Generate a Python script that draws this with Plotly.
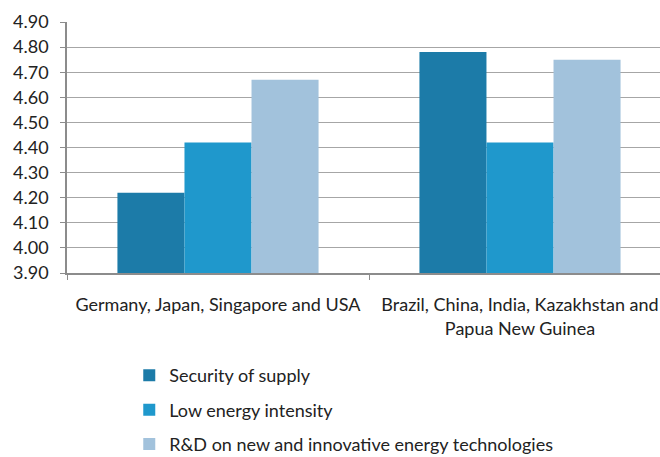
import plotly.graph_objects as go

# Country groups shown on the x axis
categories = [
    "Germany, Japan, Singapore and USA",
    "Brazil, China, India, Kazakhstan and<br>Papua New Guinea",
]

# Mean importance score of each energy-policy priority
security_of_supply = [4.22, 4.78]
low_energy_intensity = [4.42, 4.42]
rnd_new_technologies = [4.67, 4.75]

series_names = [
    "Security of supply",
    "Low energy intensity",
    "R&D on new and innovative energy technologies",
]
series_values = [security_of_supply, low_energy_intensity, rnd_new_technologies]
series_colors = ["#1C7BA8", "#1F98CC", "#A2C2DC"]

y_ticks = [3.9 + 0.1 * i for i in range(11)]

FONT = "Lato"
TEXT = "#222222"
SIZE = 18

fig = go.Figure()
for i, (name, vals, color) in enumerate(zip(series_names, series_values, series_colors)):
    fig.add_trace(go.Bar(
        x=categories,
        y=vals,
        name=name,
        legendgroup=f"g{i}",
        marker=dict(color=color, line=dict(width=0)),
    ))

fig.update_layout(
    width=660,
    height=457,
    margin=dict(l=67, r=0, t=22, b=184, autoexpand=False),
    paper_bgcolor="white",
    plot_bgcolor="white",
    barmode="group",
    bargap=0.334,
    bargroupgap=0,
    font=dict(family=FONT, size=SIZE, color=TEXT),
    showlegend=True,
    legend=dict(
        orientation="v",
        x=0.105,
        xanchor="left",
        y=-0.335,
        yanchor="top",
        traceorder="grouped",
        tracegroupgap=8,
        font=dict(family=FONT, size=SIZE, color=TEXT),
        bgcolor="rgba(0,0,0,0)",
    ),
)

fig.update_xaxes(
    type="category",
    range=[-0.5, 1.4636],
    showline=True,
    linecolor="#8C8C8C",
    linewidth=1.5,
    ticks="outside",
    tickson="boundaries",
    ticklen=5,
    tickcolor="#8C8C8C",
    ticklabelstandoff=15,
    showgrid=False,
    tickfont=dict(family=FONT, size=SIZE, color=TEXT),
)

fig.update_yaxes(
    range=[3.9, 4.9],
    tickvals=y_ticks,
    tickformat=".2f",
    showline=True,
    linecolor="#8C8C8C",
    linewidth=1.5,
    ticks="outside",
    ticklen=5,
    tickcolor="#8C8C8C",
    ticklabelstandoff=8,
    showgrid=True,
    gridcolor="#A6A6A6",
    gridwidth=1.3,
    zeroline=False,
    tickfont=dict(family=FONT, size=SIZE, color=TEXT),
)

fig.write_html("out.html")
